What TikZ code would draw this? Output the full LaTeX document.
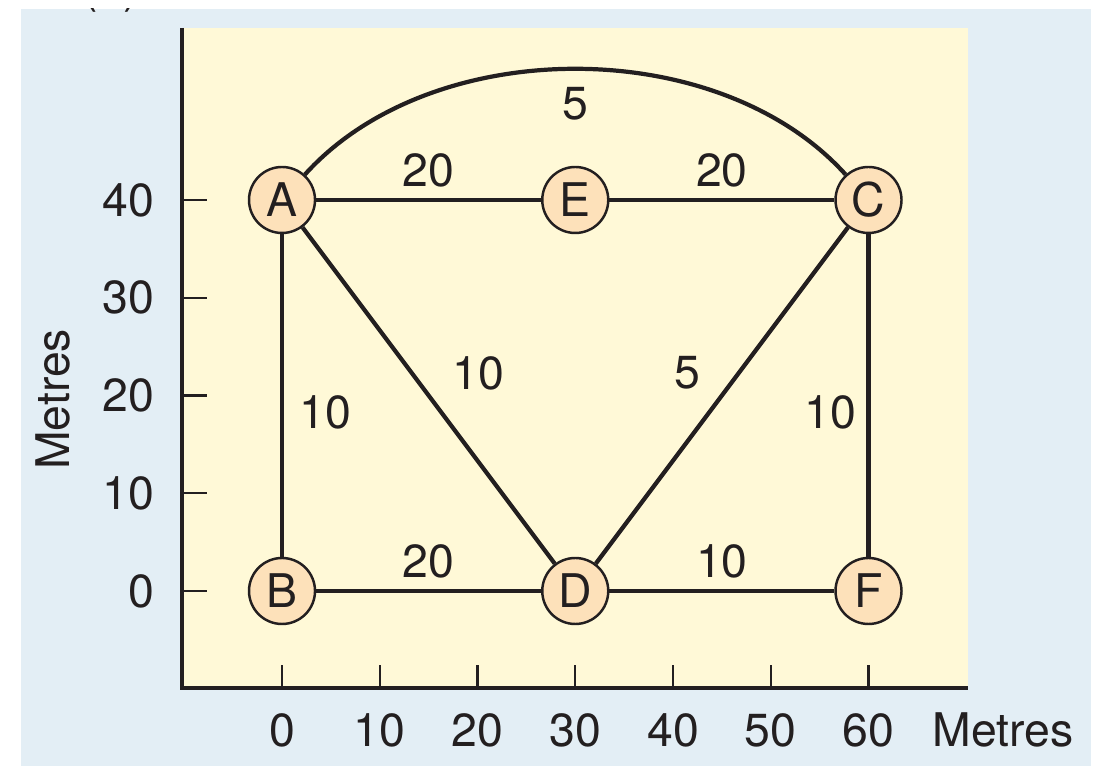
\documentclass[tikz,border=0pt]{standalone}
\usepackage{fontspec}
\setmainfont{TeX Gyre Heros}
\usepackage{xcolor}

\definecolor{panelblue}{RGB}{227,238,245}
\definecolor{plotyellow}{RGB}{255,249,215}
\definecolor{nodepeach}{RGB}{253,225,186}
\definecolor{inkdark}{RGB}{35,31,32}

\begin{document}
\begin{tikzpicture}[x=0.09775cm,y=0.09775cm,font=\fontsize{13.2}{15.5}\selectfont,
  vtx/.style={circle,draw=inkdark,line width=0.7pt,fill=nodepeach,minimum size=0.66cm,inner sep=0pt,text=inkdark},
  edge/.style={draw=inkdark,line width=1.2pt},
  wt/.style={midway,inner sep=1pt,text=inkdark},
  tickmark/.style={draw=inkdark,line width=0.6pt},
  ticklab/.style={text=inkdark,inner sep=0pt}]
\useasboundingbox (-28.85,-17.90) rectangle (83.58,60.46);
\fill[panelblue] (-26.7,-17.9) rectangle (82.76,59.54);
\begin{scope}
\clip (-26.7,-17.9) rectangle (82.76,59.54);
\node[anchor=base,text=inkdark] (tag) at (-17.5,60.25) {(a)};
\end{scope}
\fill[plotyellow] (-10.2,-9.9) rectangle (70.2,57.6);
\draw[inkdark,line width=1.2pt,line join=miter] (-10.2,57.6) -- (-10.2,-9.9) -- (70.2,-9.9);
% x ticks
\draw[tickmark] (0,-9.9) -- (0,-7.6);
\draw[tickmark] (10,-9.9) -- (10,-7.6);
\draw[tickmark] (20,-9.9) -- (20,-7.6);
\draw[tickmark] (30,-9.9) -- (30,-7.6);
\draw[tickmark] (40,-9.9) -- (40,-7.6);
\draw[tickmark] (50,-9.9) -- (50,-7.6);
\draw[tickmark] (60,-9.9) -- (60,-7.6);
\node[ticklab,anchor=base] (lx0) at (0,-15.9) {0};
\node[ticklab,anchor=base] (lx10) at (10,-15.9) {10};
\node[ticklab,anchor=base] (lx20) at (20,-15.9) {20};
\node[ticklab,anchor=base] (lx30) at (30,-15.9) {30};
\node[ticklab,anchor=base] (lx40) at (40,-15.9) {40};
\node[ticklab,anchor=base] (lx50) at (50,-15.9) {50};
\node[ticklab,anchor=base] (lx60) at (60,-15.9) {60};
\node[ticklab,anchor=base] (xname) at (73.8,-15.9) {Metres};
% y ticks
\draw[tickmark] (-10.2,0) -- (-7.7,0);
\draw[tickmark] (-10.2,10) -- (-7.7,10);
\draw[tickmark] (-10.2,20) -- (-7.7,20);
\draw[tickmark] (-10.2,30) -- (-7.7,30);
\draw[tickmark] (-10.2,40) -- (-7.7,40);
\node[ticklab,anchor=east] (ly0) at (-13,0) {0};
\node[ticklab,anchor=east] (ly10) at (-13,10) {10};
\node[ticklab,anchor=east] (ly20) at (-13,20) {20};
\node[ticklab,anchor=east] (ly30) at (-13,30) {30};
\node[ticklab,anchor=east] (ly40) at (-13,40) {40};
\node[ticklab,anchor=base,rotate=90] (yname) at (-21.7,19.6) {Metres};
% sites
\node[vtx] (A) at (0,40) {A};
\node[vtx] (E) at (30,40) {E};
\node[vtx] (C) at (60,40) {C};
\node[vtx] (B) at (0,0) {B};
\node[vtx] (D) at (30,0) {D};
\node[vtx] (F) at (60,0) {F};
% links
\draw[edge] (A) to[out=48,in=132,looseness=0.9] node[wt,yshift=-0.35cm] {5} (C);
\draw[edge] (A) -- node[wt,yshift=0.30cm] {20} (E);
\draw[edge] (E) -- node[wt,yshift=0.30cm] {20} (C);
\draw[edge] (A) -- node[wt,xshift=0.50cm,yshift=0.225cm] {10} (D);
\draw[edge] (C) -- node[wt,xshift=-0.34cm,yshift=0.225cm] {5} (D);
\draw[edge] (A) -- node[wt,xshift=0.43cm,yshift=-0.17cm] {10} (B);
\draw[edge] (C) -- node[wt,xshift=-0.38cm,yshift=-0.17cm] {10} (F);
\draw[edge] (B) -- node[wt,yshift=0.30cm] {20} (D);
\draw[edge] (D) -- node[wt,yshift=0.30cm] {10} (F);
\end{tikzpicture}
\end{document}
